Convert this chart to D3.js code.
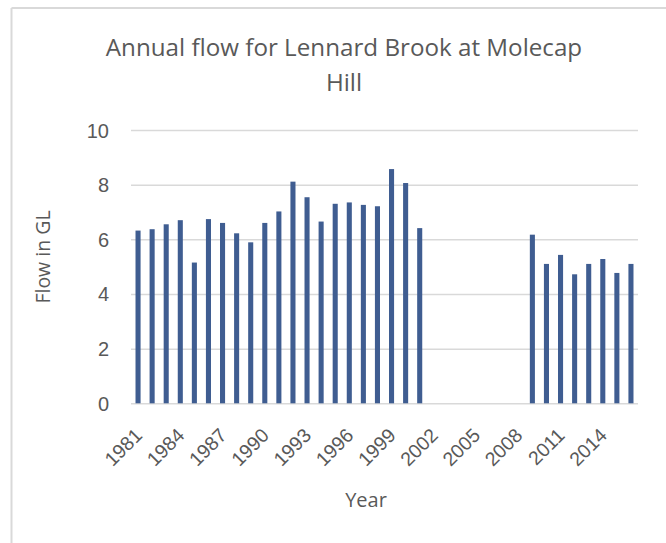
<!DOCTYPE html>
<html>
<head>
<meta charset="utf-8">
<script src="https://cdn.jsdelivr.net/npm/d3@7"></script>
<style>
  html, body { margin: 0; padding: 0; background: #fff; }
  svg { display: block; font-family: "Open Sans", "Noto Sans", sans-serif; }
</style>
</head>
<body>
<svg id="chart" width="666" height="543"></svg>
<script>
const years = d3.range(1981, 2017).map(String);
const flowYears = ["1981","1982","1983","1984","1985","1986","1987","1988","1989","1990","1991","1992","1993","1994","1995","1996","1997","1998","1999","2000","2001","2009","2010","2011","2012","2013","2014","2015","2016"];
const flowValues = [6.32,6.37,6.55,6.70,5.15,6.74,6.60,6.22,5.89,6.60,7.02,8.11,7.54,6.65,7.30,7.35,7.26,7.21,8.57,8.06,6.41,6.17,5.10,5.43,4.72,5.10,5.28,4.77,5.10];
const yTicks = [0, 2, 4, 6, 8, 10];
const xTickLabels = ["1981","1984","1987","1990","1993","1996","1999","2002","2005","2008","2011","2014"];
const titleLines = ["Annual flow for Lennard Brook at Molecap", "Hill"];

const data = flowYears.map((y, i) => ({year: y, value: flowValues[i]}));

const svg = d3.select("#chart");
const plotLeft = 131, plotRight = 638, plotTop = 130, plotBottom = 403.3;

// chart border (left and top)
svg.append("line").attr("x1", 11.5).attr("x2", 11.5).attr("y1", 8).attr("y2", 543)
  .attr("stroke", "#d9d9d9").attr("stroke-width", 2);
svg.append("line").attr("x1", 11.5).attr("x2", 666).attr("y1", 8).attr("y2", 8)
  .attr("stroke", "#d9d9d9").attr("stroke-width", 2);

const x = d3.scaleBand().domain(years).range([plotLeft, plotRight]).paddingInner(0.64).paddingOuter(0.32);
const y = d3.scaleLinear().domain([0, 10]).range([plotBottom, plotTop]);

// gridlines
const yAxis = d3.axisLeft(y).tickValues(yTicks).tickSize(-(plotRight - plotLeft)).tickPadding(22);
const gy = svg.append("g").attr("transform", `translate(${plotLeft},0)`).call(yAxis);
gy.select(".domain").remove();
gy.selectAll(".tick line").attr("stroke", "#d9d9d9").attr("stroke-width", 1.5);
gy.selectAll(".tick text").attr("fill", "#595959").attr("font-size", 20).attr("dy", "0.35em");

// bars
svg.append("g").selectAll("rect").data(data).join("rect")
  .attr("x", d => x(d.year))
  .attr("width", x.bandwidth())
  .attr("y", d => y(d.value))
  .attr("height", d => y(0) - y(d.value))
  .attr("fill", "#3f5d91");

// x axis labels
const xAxis = d3.axisBottom(x).tickValues(xTickLabels).tickSize(0).tickPadding(0);
const gx = svg.append("g").attr("transform", `translate(0,${plotBottom})`).call(xAxis);
gx.select(".domain").remove();
gx.selectAll(".tick text")
  .attr("fill", "#595959").attr("font-size", 19.5)
  .attr("text-anchor", "end")
  .attr("transform", "translate(0.5,28.5) rotate(-45)")
  .attr("dy", "0.35em").attr("y", 0).attr("x", 0);

// title
svg.append("text").attr("x", 344).attr("y", 56).attr("text-anchor", "middle")
  .attr("font-size", 24.2).attr("fill", "#595959")
  .selectAll("tspan").data(titleLines).join("tspan")
  .attr("x", 344).attr("dy", (d, i) => i === 0 ? 0 : 34.5).text(d => d);

// axis titles
svg.append("text").attr("transform", "translate(50,257) rotate(-90)")
  .attr("text-anchor", "middle").attr("font-size", 19.5).attr("fill", "#595959").text("Flow in GL");
svg.append("text").attr("x", 366).attr("y", 507).attr("text-anchor", "middle")
  .attr("font-size", 20).attr("fill", "#595959").text("Year");
</script>
</body>
</html>
